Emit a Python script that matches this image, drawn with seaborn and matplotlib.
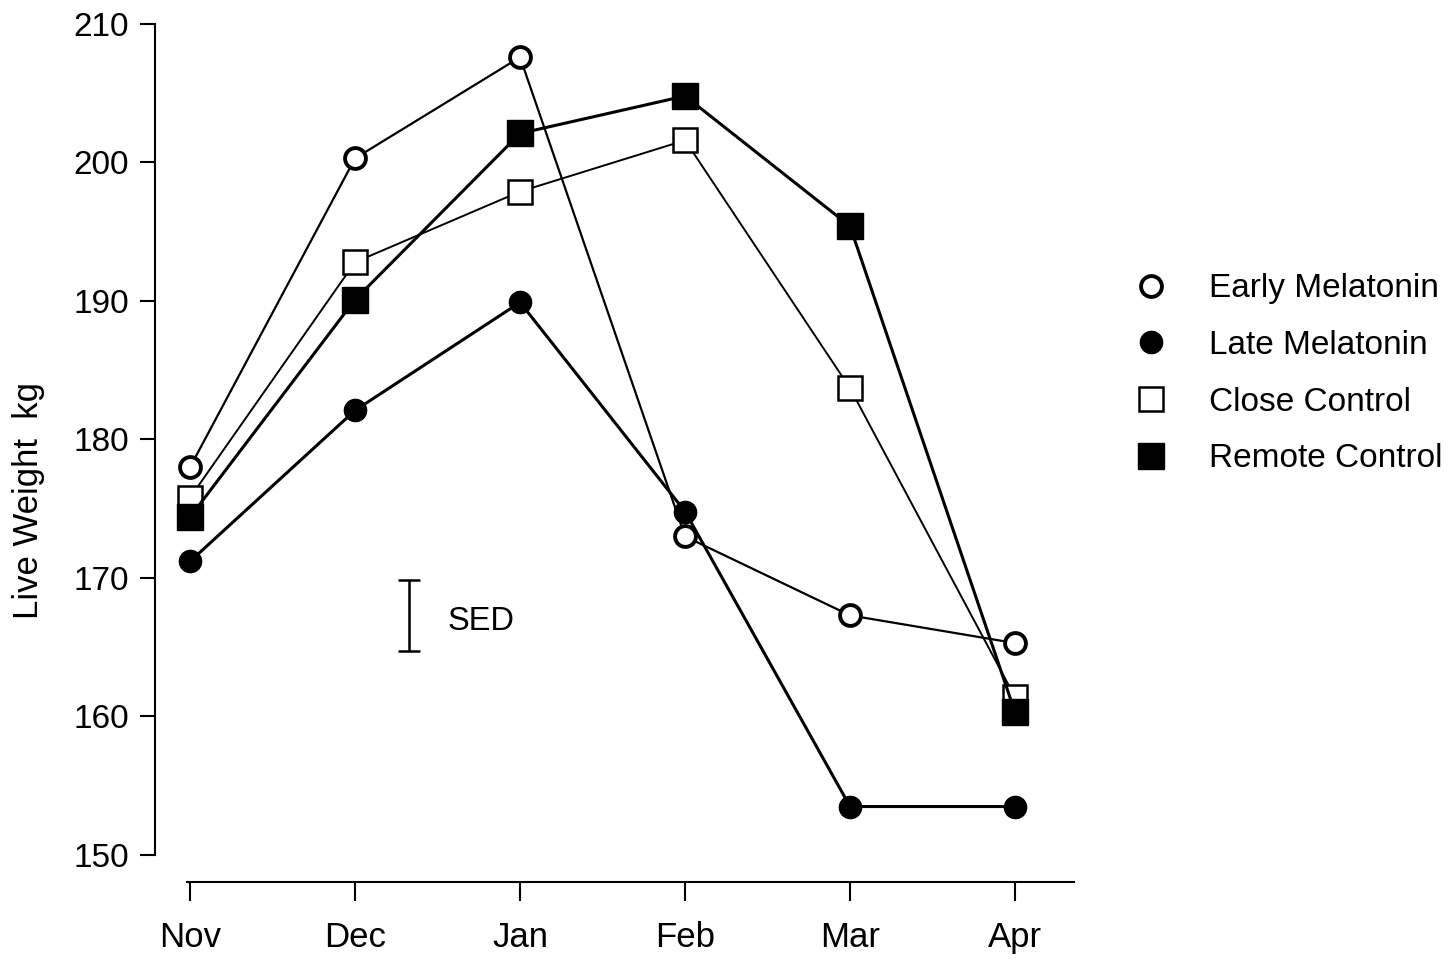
import matplotlib
matplotlib.use("Agg")
import matplotlib.pyplot as plt
from matplotlib.lines import Line2D
import seaborn as sns

# Data
months = ["Nov", "Dec", "Jan", "Feb", "Mar", "Apr"]
early_melatonin = [178.0, 200.3, 207.6, 173.0, 167.3, 165.3]
late_melatonin = [171.2, 182.1, 189.9, 174.8, 153.5, 153.5]
close_control = [175.8, 192.8, 197.9, 201.6, 183.7, 161.4]
remote_control = [174.4, 190.1, 202.1, 204.8, 195.4, 160.3]
sed_center = 167.3
sed_half = 2.55

sns.set_style("ticks")
plt.rcParams['font.family'] = ['Liberation Sans', 'DejaVu Sans']
plt.rcParams['text.color'] = 'black'
plt.rcParams['axes.labelcolor'] = 'black'

fig = plt.figure(figsize=(14.56, 9.63), dpi=100)
ax = fig.add_axes([0.1065, 0.0841, 0.6319, 0.891])

x = list(range(len(months)))

series = [
    ("Early Melatonin", early_melatonin, "o", "white", 1.6, 15.0, 2.8),
    ("Late Melatonin", late_melatonin, "o", "black", 2.2, 16.0, 1.0),
    ("Close Control", close_control, "s", "white", 1.4, 17.0, 1.8),
    ("Remote Control", remote_control, "s", "black", 2.2, 18.5, 1.0),
]

handles = []
for label, vals, mk, fc, lw, ms, mew in series:
    sns.lineplot(x=x, y=vals, ax=ax, color="black", linewidth=lw,
                 marker=mk, markersize=ms, markerfacecolor=fc,
                 markeredgecolor="black", markeredgewidth=mew, zorder=3)
    handles.append(Line2D([], [], linestyle="none", marker=mk, color="black",
                          markersize=ms, markerfacecolor=fc,
                          markeredgecolor="black", markeredgewidth=mew,
                          label=label))

# SED bar
ax.errorbar([1.33], [sed_center], yerr=[sed_half], fmt="none", ecolor="black",
            elinewidth=1.8, capsize=8, capthick=1.8)
ax.text(1.56, sed_center - 0.45, "SED", fontsize=23.5, va="center", ha="left")

ax.set_xlim(-0.212, 5.364)
ax.set_ylim(148.05, 210)
ax.set_xticks(x)
ax.set_xticklabels(months)
ax.set_yticks([150, 160, 170, 180, 190, 200, 210])

ax.spines["top"].set_visible(False)
ax.spines["right"].set_visible(False)
ax.spines["left"].set_bounds(150, 210)
ax.spines["bottom"].set_bounds(-0.02, 5.36)
for s in ("left", "bottom"):
    ax.spines[s].set_linewidth(1.5)
    ax.spines[s].set_color("black")

ax.tick_params(axis="x", length=14, width=1.5, pad=14, labelsize=25, colors="black")
ax.tick_params(axis="y", length=11, width=1.5, pad=8, labelsize=24, colors="black")

ax.set_ylabel("Live Weight  kg", fontsize=25)
ax.yaxis.set_label_coords(-0.12, 0.445)
ax.set_xlabel("")

ax.legend(handles=handles, loc="upper left", bbox_to_anchor=(0.779, 0.716),
          bbox_transform=fig.transFigure, frameon=False, fontsize=24,
          handlelength=1.0, handletextpad=1.25, labelspacing=0.77,
          borderpad=0, borderaxespad=0)

fig.savefig("out.png", dpi=100, facecolor="white")
